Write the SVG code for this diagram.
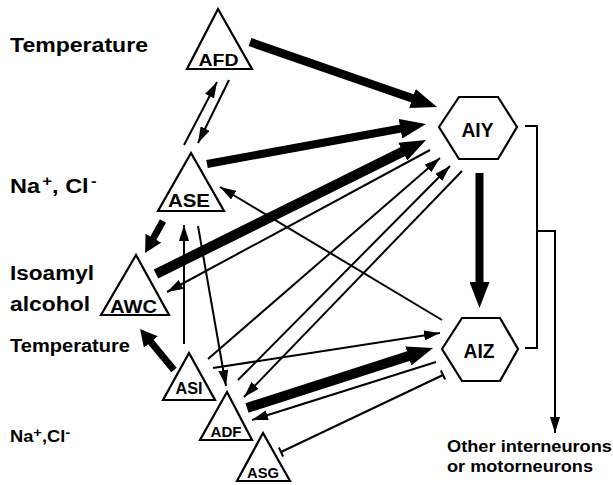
<svg xmlns="http://www.w3.org/2000/svg" width="613" height="485" viewBox="0 0 613 485">
  <defs>
    <style>
      .shape { fill: #fff; stroke: #000; stroke-width: 2.2; stroke-linejoin: miter; }
      .lbl { font-family: "Liberation Sans", Arial, Helvetica, sans-serif; font-weight: bold; fill: #000; }
      .nl { text-anchor: middle; }
      .thin { fill: none; stroke: #000; stroke-width: 2; }
      .thick { fill: none; stroke: #000; }
      .a { marker-end: url(#ah); }
      .b { marker-end: url(#bh); }
      .m { marker-end: url(#mh); }
    </style>
    <!-- small filled head for thin connectors -->
    <marker id="ah" markerUnits="userSpaceOnUse" markerWidth="16" markerHeight="10" viewBox="0 0 16 10" refX="16" refY="5" orient="auto">
      <path d="M0,0L16,5L0,10z" fill="#000"/>
    </marker>
    <!-- large head for heavy connectors; the shaft stops near its base -->
    <marker id="bh" markerUnits="userSpaceOnUse" markerWidth="26" markerHeight="20" viewBox="0 0 26 20" refX="2" refY="10" orient="auto">
      <path d="M0,0L26,10L0,20z" fill="#000"/>
    </marker>
    <!-- medium head for the short heavy arrows -->
    <marker id="mh" markerUnits="userSpaceOnUse" markerWidth="17" markerHeight="18" viewBox="0 0 17 18" refX="2" refY="9" orient="auto">
      <path d="M0,0L17,9L0,18z" fill="#000"/>
    </marker>
    <!-- inhibitory bar -->
    <marker id="tb" markerUnits="userSpaceOnUse" markerWidth="4" markerHeight="12" viewBox="0 0 4 12" refX="2" refY="6" orient="auto">
      <path d="M2,1V11" stroke="#000" stroke-width="2"/>
    </marker>
  </defs>

  <rect width="613" height="485" fill="#fff"/>

  <!-- stimulus labels -->
  <g id="labels">
    <text class="lbl" x="10" y="52" font-size="20.5" textLength="138" lengthAdjust="spacingAndGlyphs">Temperature</text>
    <text class="lbl" font-size="21" transform="translate(10,193) scale(1.12,1)">Na<tspan dx="2" dy="-7" font-size="15">+</tspan><tspan dy="7">, Cl</tspan><tspan dx="2" dy="-7" font-size="15">-</tspan></text>
    <text class="lbl" x="10" y="280" font-size="20" textLength="84" lengthAdjust="spacingAndGlyphs">Isoamyl</text>
    <text class="lbl" x="10" y="311" font-size="20" textLength="80" lengthAdjust="spacingAndGlyphs">alcohol</text>
    <text class="lbl" x="10" y="352" font-size="18" textLength="120" lengthAdjust="spacingAndGlyphs">Temperature</text>
    <text class="lbl" font-size="16" transform="translate(10,442) scale(1.14,1)">Na<tspan dy="-5" font-size="13">+</tspan><tspan dy="5">,Cl</tspan><tspan dy="-5" font-size="13">-</tspan></text>
    <text class="lbl" x="447" y="452" font-size="16" textLength="165" lengthAdjust="spacingAndGlyphs">Other interneurons</text>
    <text class="lbl" x="447" y="472" font-size="16" textLength="146" lengthAdjust="spacingAndGlyphs">or motorneurons</text>
  </g>

  <g id="connectors">
    <!-- heavy connections -->
    <line class="thick b" stroke-width="8.5" x1="250" y1="42" x2="414.3" y2="99.1"/>
    <line class="thick b" stroke-width="8" x1="207" y1="164" x2="402.4" y2="128.3"/>
    <line class="thick b" stroke-width="10" x1="156" y1="274" x2="404.5" y2="150.7"/>
    <line class="thick b" stroke-width="8" x1="479.5" y1="173" x2="479.5" y2="284"/>
    <line class="thick b" stroke-width="10" x1="247" y1="408" x2="410.2" y2="355.4"/>
    <line class="thick m" stroke-width="7" x1="163" y1="221" x2="152.4" y2="239.9"/>
    <line class="thick m" stroke-width="7" x1="174" y1="370" x2="149.6" y2="340.5"/>

    <!-- thin connections -->
    <line class="thin a" x1="184" y1="145" x2="217" y2="82"/>
    <line class="thin a" x1="229" y1="80" x2="198" y2="143"/>
    <line class="thin a" x1="184" y1="344" x2="184" y2="225"/>
    <line class="thin a" x1="198" y1="226" x2="226" y2="386"/>
    <line class="thin a" x1="442" y1="320" x2="220" y2="187"/>
    <line class="thin a" x1="430" y1="150" x2="167" y2="292"/>
    <line class="thin a" x1="208" y1="359" x2="440" y2="158"/>
    <line class="thin a" x1="238" y1="380" x2="450" y2="166"/>
    <line class="thin a" x1="462" y1="171" x2="244" y2="397"/>
    <line class="thin a" x1="213" y1="368" x2="440" y2="333"/>
    <line class="thin a" x1="436" y1="362" x2="252" y2="420"/>
    <line class="thin" marker-start="url(#tb)" marker-end="url(#tb)" x1="281" y1="452" x2="443" y2="375"/>

    <!-- interneuron outputs -->
    <polyline class="thin" points="525,126 537,126 537,348 525,348"/>
    <polyline class="thin a" points="537,231 555,231 555,433"/>
  </g>

  <!-- sensory neurons -->
  <g id="AFD">
    <polygon class="shape" points="218,9 187,69 252,69"/>
    <text class="lbl nl" x="218.5" y="66" font-size="17" textLength="40" lengthAdjust="spacingAndGlyphs">AFD</text>
  </g>
  <g id="ASE">
    <polygon class="shape" points="191,153 158,211 224,211"/>
    <text class="lbl nl" x="189" y="206.5" font-size="18.5" textLength="42" lengthAdjust="spacingAndGlyphs">ASE</text>
  </g>
  <g id="AWC">
    <polygon class="shape" points="136,255 101,315 169,315"/>
    <text class="lbl nl" x="133.5" y="313" font-size="18" textLength="47" lengthAdjust="spacingAndGlyphs">AWC</text>
  </g>
  <g id="ASI">
    <polygon class="shape" points="189,353 163,400 215,400"/>
    <text class="lbl nl" x="189" y="394" font-size="16" textLength="27" lengthAdjust="spacingAndGlyphs">ASI</text>
  </g>
  <g id="ADF">
    <polygon class="shape" points="227,392 200,440 252,440"/>
    <text class="lbl nl" x="226" y="437" font-size="15.5" textLength="31" lengthAdjust="spacingAndGlyphs">ADF</text>
  </g>
  <g id="ASG">
    <polygon class="shape" points="263,433 237,481 290,481"/>
    <text class="lbl nl" x="263" y="478" font-size="15.5" textLength="32" lengthAdjust="spacingAndGlyphs">ASG</text>
  </g>

  <!-- interneurons -->
  <g id="AIY">
    <polygon class="shape" points="439,127 459,97 498,97 517,127 498,159 459,159"/>
    <text class="lbl nl" x="477.5" y="137" font-size="20" textLength="32" lengthAdjust="spacingAndGlyphs">AIY</text>
  </g>
  <g id="AIZ">
    <polygon class="shape" points="442,349 462,318 500,318 518,349 500,381 462,381"/>
    <text class="lbl nl" x="479" y="358" font-size="20" textLength="31" lengthAdjust="spacingAndGlyphs">AIZ</text>
  </g>
</svg>
